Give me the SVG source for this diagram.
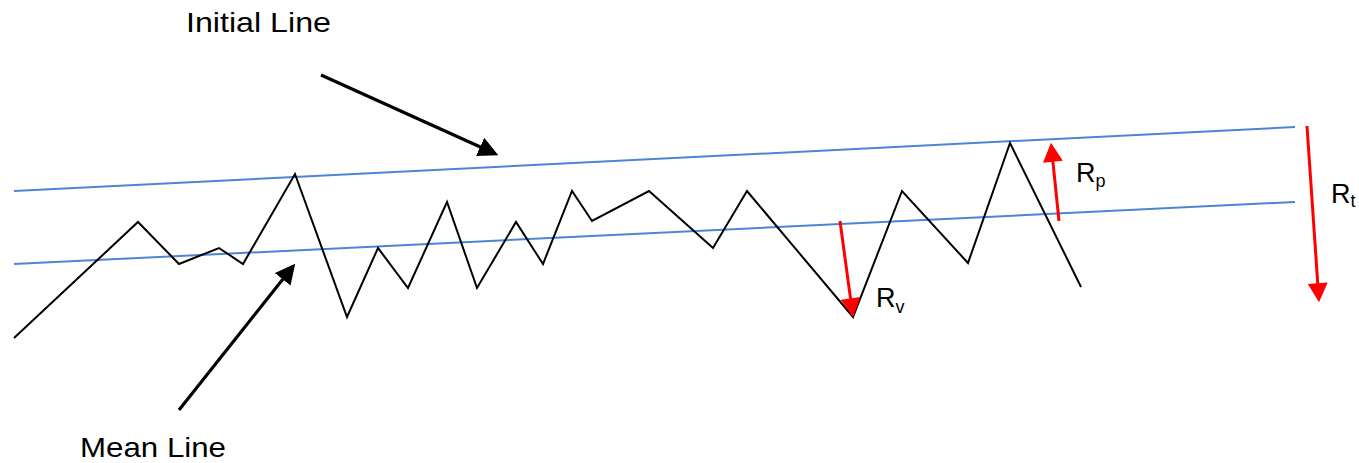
<svg xmlns="http://www.w3.org/2000/svg" width="1359" height="463" viewBox="0 0 1359 463">
  <style>
    .lbl { font-family: "Liberation Sans", Arial, sans-serif; fill: #000; }
    .blue { stroke: #4a86d4; stroke-width: 2; fill: none; }
    .prof { stroke: #000; stroke-width: 2; fill: none; stroke-linejoin: miter; }
    .blk { stroke: #000; stroke-width: 3.2; fill: none; }
    .red { stroke: #ff0000; stroke-width: 3; fill: none; }
  </style>
  <defs>
    <marker id="ahBlack" markerUnits="userSpaceOnUse" markerWidth="20" markerHeight="20" refX="15" refY="9" orient="auto" viewBox="0 0 18 18">
      <path d="M0,0 L18,9 L0,18 z" fill="#000"/>
    </marker>
    <marker id="ahRed" markerUnits="userSpaceOnUse" markerWidth="20" markerHeight="20" refX="15" refY="9.5" orient="auto" viewBox="0 0 18 19">
      <path d="M0,0 L18,9.5 L0,19 z" fill="#ff0000"/>
    </marker>
  </defs>

  <g id="initial-line">
    <line class="blue" x1="14" y1="191" x2="1295" y2="127"/>
  </g>
  <g id="mean-line">
    <line class="blue" x1="14" y1="264" x2="1295" y2="202"/>
  </g>
  <g id="profile">
    <polyline class="prof" points="14,338 138,222 179,264 219,248 243,264 295,174 347,317 378,248 408,288 447,202 477,288 516,222 543,264 572,191 592,221 649,191 713,248 747,191 853,317 902,191 968,263 1010,143 1081,287"/>
  </g>

  <g id="connectors">
    <line class="blk" x1="321" y1="75" x2="495.3" y2="153.8" marker-end="url(#ahBlack)"/>
    <line class="blk" x1="179" y1="410" x2="293.1" y2="266.3" marker-end="url(#ahBlack)"/>
    <line class="red" x1="840" y1="221" x2="852.6" y2="314" marker-end="url(#ahRed)"/>
    <line class="red" x1="1059" y1="221" x2="1051.3" y2="146" marker-end="url(#ahRed)"/>
    <line class="red" x1="1307" y1="126" x2="1318.8" y2="299" marker-end="url(#ahRed)"/>
  </g>

  <g id="label-initial">
    <text class="lbl" x="186" y="32" font-size="28" textLength="145" lengthAdjust="spacingAndGlyphs">Initial Line</text>
  </g>
  <g id="label-mean">
    <text class="lbl" x="80" y="457" font-size="28" textLength="146" lengthAdjust="spacingAndGlyphs">Mean Line</text>
  </g>
  <g id="label-rv">
    <text class="lbl" x="876" y="307" font-size="27">R<tspan font-size="18" dy="6">v</tspan></text>
  </g>
  <g id="label-rp">
    <text class="lbl" x="1076" y="181.5" font-size="27">R<tspan font-size="18" dy="5">p</tspan></text>
  </g>
  <g id="label-rt">
    <text class="lbl" x="1331" y="202.5" font-size="27">R<tspan font-size="18" dy="4">t</tspan></text>
  </g>
</svg>
